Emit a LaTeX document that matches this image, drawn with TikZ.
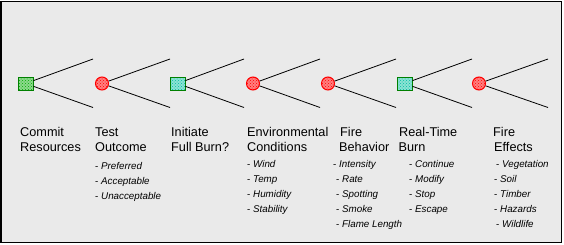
\documentclass[tikz,border=0pt]{standalone}
\usepackage{fontspec}
\setmainfont{Liberation Sans}
\usetikzlibrary{patterns}
\definecolor{bgray}{RGB}{234,234,234}
\definecolor{dgreen}{RGB}{0,128,0}
\definecolor{dotgreen}{RGB}{0,170,0}
\definecolor{dotteal}{RGB}{0,190,160}
\definecolor{dred}{RGB}{255,0,0}
\tikzset{
  decision/.style={draw=dgreen, line width=1pt, minimum width=15pt, minimum height=13pt, inner sep=0pt,
    preaction={fill=#1!45!white}, pattern=crosshatch dots, pattern color=#1},
  chance/.style={circle, draw=dred, line width=1pt, minimum size=13pt, inner sep=0pt,
    preaction={fill=dred!50!white}, pattern=crosshatch dots, pattern color=dred},
  branch/.style={line width=0.8pt, black},
  head/.style={anchor=base west, inner sep=0pt, font=\fontsize{12.7}{15}\selectfont},
  item/.style={anchor=base west, inner sep=0pt, font=\fontsize{9.8}{15}\selectfont}
}
\begin{document}
\begin{tikzpicture}[x=1pt,y=-1pt]
\useasboundingbox (0,0) rectangle (564,244);
\draw[line width=1.5pt, fill=bgray] (1,1.5) rectangle (561.5,242.3);

% nodes
\node[decision=dotgreen] (n1) at (25.5,83.5) {};
\node[chance] (n2) at (102,83.5) {};
\node[decision=dotteal] (n3) at (177.5,83.5) {};
\node[chance] (n4) at (253,83.5) {};
\node[chance] (n5) at (328,83.5) {};
\node[decision=dotteal] (n6) at (404.5,83.5) {};
\node[chance] (n7) at (479,83.5) {};

% branch end points
\foreach \i/\x in {1/93,2/170,3/244,4/320,5/396,6/472,7/548}{
  \coordinate (u\i) at (\x,59);
  \coordinate (l\i) at (\x,107.5);
  \draw[branch] (n\i) -- (u\i);
  \draw[branch] (n\i) -- (l\i);
}

% headings
\node[head] (h1a) at (20,136.5) {Commit};
\node[head] (h1b) at (20,151.5) {Resources};
\node[head] (h2a) at (95,136.5) {Test};
\node[head] (h2b) at (95,151.5) {Outcome};
\node[head] (h3a) at (171,136.5) {Initiate};
\node[head] (h3b) at (171,151.5) {Full Burn?};
\node[head] (h4a) at (247,136.5) {Environmental};
\node[head] (h4b) at (247,151.5) {Conditions};
\node[head] (h5a) at (340,136.5) {Fire};
\node[head] (h5b) at (339,151.5) {Behavior};
\node[head] (h6a) at (399,136.5) {Real-Time};
\node[head] (h6b) at (398.5,151.5) {Burn};
\node[head] (h7a) at (493,136.5) {Fire};
\node[head] (h7b) at (494,151.5) {Effects};

% sub items
\node[item] (t1) at (95,169) {- \textit{Preferred}};
\node[item] (t2) at (95,184) {- \textit{Acceptable}};
\node[item] (t3) at (95,199) {- \textit{Unacceptable}};

\node[item] (e1) at (247,167) {- \textit{Wind}};
\node[item] (e2) at (247,182) {- \textit{Temp}};
\node[item] (e3) at (247,197) {- \textit{Humidity}};
\node[item] (e4) at (247,212) {- \textit{Stability}};

\node[item] (b1) at (333,167) {- \textit{Intensity}};
\node[item] (b2) at (336,182) {- \textit{Rate}};
\node[item] (b3) at (336,197) {- \textit{Spotting}};
\node[item] (b4) at (336,212) {- \textit{Smoke}};
\node[item] (b5) at (336,227) {- \textit{Flame Length}};

\node[item] (r1) at (409,167) {- \textit{Continue}};
\node[item] (r2) at (409,182) {- \textit{Modify}};
\node[item] (r3) at (409,197) {- \textit{Stop}};
\node[item] (r4) at (409,212) {- \textit{Escape}};

\node[item] (f1) at (496,167) {- \textit{Vegetation}};
\node[item] (f2) at (494,182) {- \textit{Soil}};
\node[item] (f3) at (494,197) {- \textit{Timber}};
\node[item] (f4) at (494,212) {- \textit{Hazards}};
\node[item] (f5) at (496,227) {- \textit{Wildlife}};
\end{tikzpicture}
\end{document}
